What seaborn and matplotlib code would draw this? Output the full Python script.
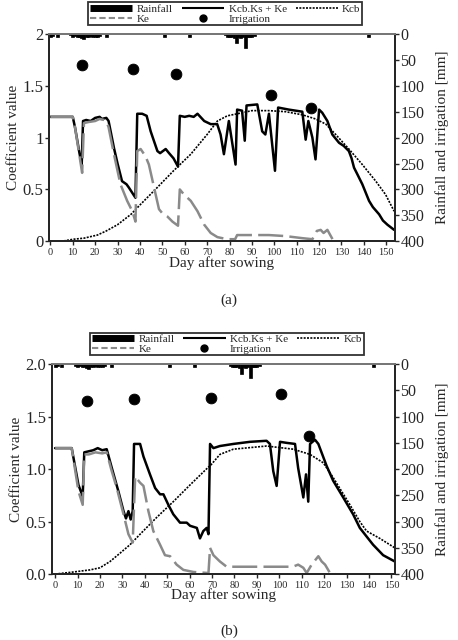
import numpy as np
import pandas as pd
import seaborn as sns
import matplotlib.pyplot as plt
from matplotlib.lines import Line2D

# ---- shared rainfall (mm) ----
rain_day = [0, 1, 3, 9, 10, 11, 12, 13, 14, 15, 16, 17, 18, 19, 20, 21, 22, 25, 51, 62,
            78, 79, 80, 81, 82, 83, 84, 85, 86, 87, 88, 89, 90, 91, 142]
rain_mm = [5, 4, 5, 3, 5, 4, 5, 6, 8, 10, 6, 5, 4, 6, 5, 5, 4, 6, 6, 6,
           3, 5, 6, 6, 8, 18, 6, 8, 6, 27, 6, 5, 5, 4, 5]

# ---- panel (a) ----
a_kc_day = [0, 10, 11, 13, 14, 14.6, 16, 18, 20, 22,
            23, 25, 26, 28.4, 30, 32, 34, 35, 38, 38.8,
            41, 43, 44.8, 47.8, 49, 51.5, 53, 55, 57, 57.8,
            60, 62, 64, 65.7, 68.7, 71.6, 74.5, 76, 77.5, 79.7,
            82.7, 83.4, 85.6, 86.8, 87.6, 92.4, 94.6, 96, 97.6, 100.3,
            101.7, 106.5, 112.5, 114, 115.2, 117, 118.4, 120, 121.4, 123.7,
            125.9, 128.9, 131, 133.3, 134.5, 135.6, 137, 139.3, 142.3, 144,
            146.8, 148.5, 150.5, 153.5]
a_kc = [1.2, 1.2, 1.1, 0.85, 0.74, 1.16, 1.17, 1.16, 1.19, 1.2,
        1.18, 1.19, 1.16, 0.9, 0.75, 0.58, 0.55, 0.52, 0.42, 1.23,
        1.23, 1.21, 1.06, 0.87, 0.85, 0.89, 0.85, 0.8, 0.72, 1.21,
        1.2, 1.21, 1.2, 1.23, 1.16, 1.13, 1.13, 1.03, 0.84, 1.16,
        0.74, 1.27, 1.26, 0.97, 1.31, 1.32, 1.06, 1.03, 1.23, 0.68,
        1.29, 1.27, 1.25, 0.98, 1.16, 1.0, 0.79, 1.27, 1.24, 1.16,
        1.03, 0.95, 0.92, 0.87, 0.8, 0.71, 0.65, 0.55, 0.39, 0.33,
        0.26, 0.2, 0.16, 0.11]
a_kcb_day = [0, 5, 10.4, 15, 21, 25, 30, 33, 36, 40,
             47.8, 55, 62.7, 70, 74.6, 79, 83.5, 90, 97.6, 105,
             112.5, 118.4, 123, 127.4, 133.3, 139.3, 145.3, 149.7, 153.5]
a_kcb = [0, 0, 0.02, 0.03, 0.06, 0.1, 0.16, 0.21, 0.26, 0.35,
         0.52, 0.68, 0.84, 1.03, 1.16, 1.21, 1.23, 1.26, 1.26, 1.25,
         1.22, 1.18, 1.13, 1.03, 0.89, 0.74, 0.58, 0.45, 0.29]
a_ke_day = [0, 10, 11, 14.2, 15, 17, 20, 22, 24, 25,
            26, 28.4, 31.3, 34.3, 36.6, 38, 38.8, 40.3, 42.5, 44,
            46.3, 48.5, 50, 52.2, 54.5, 57, 57.8, 59.7, 62.7, 65.7,
            68.7, 71.6, 74.6, 79, 82.5, 83.4, 97.6, 105, 112.5, 117,
            119, 120.7, 122, 123.7, 126, 127]
a_ke = [1.2, 1.2, 1.1, 0.66, 1.14, 1.15, 1.16, 1.18, 1.17, 1.16,
        1.1, 0.84, 0.55, 0.39, 0.29, 0.19, 0.87, 0.89, 0.82, 0.74,
        0.52, 0.31, 0.27, 0.24, 0.19, 0.15, 0.5, 0.45, 0.39, 0.29,
        0.16, 0.08, 0.04, 0.02, 0.02, 0.06, 0.06, 0.05, 0.03, 0.02,
        0.1, 0.11, 0.08, 0.11, 0.02, 0.0]
a_irr_day = [14, 36.9, 56, 98.6, 116.6]
a_irr_mm = [60, 68, 77, 118, 142]

# ---- panel (b) ----
b_kc_day = [0, 7.4, 10.4, 12.3, 13, 15, 17, 19, 21, 23,
            25.3, 28.2, 30.5, 31.6, 32.7, 33.7, 34.6, 35.2, 37.9, 39.4,
            42.3, 44.6, 46.8, 48.3, 50.5, 52.7, 55.7, 58.7, 60.2, 63.2,
            64.6, 66.1, 67.6, 68.4, 69.1, 70.6, 73.5, 79.5, 86.9, 94.3,
            95.8, 97.3, 98.8, 100.3, 103.3, 107, 108.4, 110.7, 111.9, 112.9,
            113.7, 115.9, 117.4, 121.1, 124, 128.5, 132.9, 135.9, 141.8, 146.3,
            151.5]
b_kc = [1.2, 1.2, 0.85, 0.74, 1.16, 1.17, 1.18, 1.2, 1.18, 1.19,
        1.01, 0.79, 0.6, 0.53, 0.6, 0.52, 0.6, 1.24, 1.24, 1.12,
        0.95, 0.82, 0.76, 0.76, 0.66, 0.57, 0.49, 0.49, 0.46, 0.44,
        0.34, 0.41, 0.44, 0.38, 1.24, 1.2, 1.22, 1.24, 1.26, 1.27,
        1.24, 0.98, 0.84, 1.26, 1.25, 1.24, 1.01, 0.73, 0.95, 0.69,
        1.24, 1.28, 1.24, 1.03, 0.89, 0.73, 0.57, 0.44, 0.28, 0.18,
        0.12]
b_kcb_day = [0, 8.2, 15.6, 20, 24.5, 29, 33.4, 37.9, 45.3, 52.7,
             60.2, 68.4, 69.1, 73.5, 79.5, 94.3, 106.2, 113.7, 119.6, 124,
             131.5, 135.9, 138.9, 144.8, 151.5]
b_kcb = [0, 0.02, 0.04, 0.06, 0.12, 0.2, 0.28, 0.38, 0.54, 0.69,
         0.85, 1.02, 1.03, 1.14, 1.19, 1.22, 1.19, 1.14, 1.06, 0.92,
         0.66, 0.5, 0.41, 0.34, 0.25]
b_ke_day = [0, 7.4, 10.4, 12.3, 13, 15, 18, 21, 23, 25,
            27.5, 30.5, 32.7, 34.6, 35.7, 37.9, 39.4, 41.6, 43.8, 46.8,
            49, 51.3, 54.2, 57.2, 61.7, 68.4, 69.1, 70.6, 73.5, 76.5,
            106, 108.4, 110.7, 112.2, 114.4, 117.4, 118.9, 120.4, 122.6, 125]
b_ke = [1.2, 1.2, 0.79, 0.66, 1.14, 1.14, 1.16, 1.15, 1.16, 1.0,
        0.82, 0.57, 0.38, 0.3, 0.93, 0.87, 0.84, 0.6, 0.41, 0.28,
        0.18, 0.17, 0.09, 0.04, 0.02, 0.01, 0.25, 0.18, 0.12, 0.07,
        0.07, 0.09, 0.06, 0.01, 0.09, 0.17, 0.12, 0.09, 0.01, 0.0]
b_irr_day = [14.4, 35.2, 69.4, 100.6, 113.3]
b_irr_mm = [70, 67, 64, 57, 137]

sns.set_style("ticks")
plt.rcParams['font.family'] = ['Liberation Serif', 'DejaVu Serif']
plt.rcParams['axes.linewidth'] = 1.4

GRAY = "#8a8a8a"
KE_DASH = (0, (10, 2.5))
KCB_DOT = (0, (1.2, 0.8))


def draw_panel(ax, kc_day, kc, kcb_day, kcb, ke_day, ke, irr_day, irr_mm, xlim, yfmt):
    df_kc = pd.DataFrame({"day": kc_day, "v": kc})
    df_kcb = pd.DataFrame({"day": kcb_day, "v": kcb})
    df_ke = pd.DataFrame({"day": ke_day, "v": ke})
    sns.lineplot(data=df_kcb, x="day", y="v", ax=ax, color="black", lw=1.2,
                 linestyle=KCB_DOT, sort=False, estimator=None)
    sns.lineplot(data=df_kc, x="day", y="v", ax=ax, color="black", lw=1.8,
                 sort=False, estimator=None)
    sns.lineplot(data=df_ke, x="day", y="v", ax=ax, color=GRAY, lw=1.8,
                 linestyle=KE_DASH, sort=False, estimator=None)
    ax.set_xlim(*xlim)
    ax.set_ylim(0, 2)
    ax.set_xticks(np.arange(0, 151, 10))
    ax.set_yticks(np.arange(0, 2.01, 0.5))
    ax.set_yticklabels([yfmt(v) for v in np.arange(0, 2.01, 0.5)])
    ax.tick_params(axis="x", labelsize=7.5, length=3, width=1, pad=2)
    ax.tick_params(axis="y", labelsize=12, length=3, width=1, pad=1)
    ax.set_xlabel("Day after sowing", fontsize=11, labelpad=-1)
    ax.set_ylabel("Coefficient value", fontsize=11, labelpad=2)
    ax.spines["top"].set_color("#777777")

    ax2 = ax.twinx()
    ax2.bar(rain_day, rain_mm, width=1.3, color="black", edgecolor="black", linewidth=0.5)
    sns.scatterplot(x=irr_day, y=irr_mm, ax=ax2, color="black", s=60,
                    edgecolor="black", zorder=5)
    ax2.set_ylim(400, 0)
    ax2.set_yticks(np.arange(0, 401, 50))
    ax2.tick_params(axis="y", labelsize=11.5, length=3, width=1, pad=1)
    ax2.set_ylabel("Rainfall and irrigation [mm]", fontsize=11, labelpad=8)
    for sp in ax2.spines.values():
        sp.set_linewidth(1.4)
    ax2.spines["top"].set_color("#777777")

    handles = [Line2D([], [], color="black", lw=5, solid_capstyle="butt"),
               Line2D([], [], color=GRAY, lw=1.5, linestyle=(0, (3, 1.5))),
               Line2D([], [], color="black", lw=1.5, solid_capstyle="butt"),
               Line2D([], [], color="black", marker="o", markersize=5, lw=0),
               Line2D([], [], color="black", lw=1.2, linestyle=KCB_DOT)]
    labels = ["Rainfall", "Ke", "Kcb.Ks + Ke", "Irrigation", "Kcb"]
    leg = ax.legend(handles, labels, ncol=3, loc="lower center",
                    bbox_to_anchor=(0.51, 1.015), fontsize=8, frameon=True,
                    fancybox=False, edgecolor="black", labelspacing=0.0,
                    handlelength=3.8, handletextpad=0.4, columnspacing=0.8,
                    borderpad=0.15)
    leg.get_frame().set_linewidth(1.3)
    leg.set_zorder(10)
    return ax2


fig = plt.figure(figsize=(4.58, 6.4), dpi=100)
ax_a = fig.add_axes([0.107, 0.623, 0.755, 0.324])
ax_b = fig.add_axes([0.1135, 0.103, 0.7485, 0.328])

draw_panel(ax_a, a_kc_day, a_kc, a_kcb_day, a_kcb, a_ke_day, a_ke,
           a_irr_day, a_irr_mm, (-0.6, 153.8), lambda v: "%g" % v)
draw_panel(ax_b, b_kc_day, b_kc, b_kcb_day, b_kcb, b_ke_day, b_ke,
           b_irr_day, b_irr_mm, (-1.4, 151.5), lambda v: "%.1f" % v)

fig.text(0.5, 0.531, "(a)", ha="center", va="center", fontsize=11)
fig.text(0.5, 0.013, "(b)", ha="center", va="center", fontsize=11)

fig.savefig("out.png", dpi=100)
